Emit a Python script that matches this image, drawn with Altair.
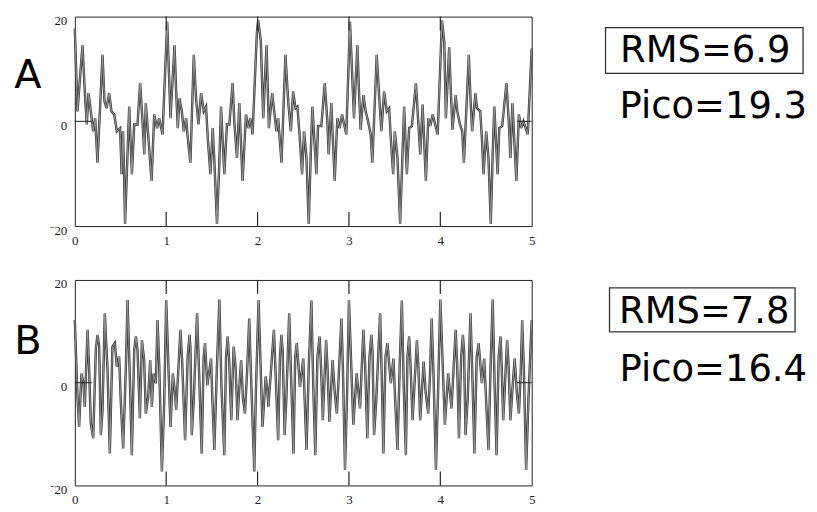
import altair as alt
import pandas as pd

# ---------------- data ----------------
a_t = [
    0.000, 0.029, 0.084, 0.109, 0.131, 0.150, 0.175, 0.201, 0.223, 0.248, 0.303, 0.325, 0.347, 0.376, 0.401, 0.431, 0.460, 0.496,
    0.512, 0.527, 0.535, 0.550, 0.575, 0.595, 0.625, 0.650, 0.686, 0.715, 0.741, 0.760, 0.777, 0.840, 0.869, 0.900, 0.923, 0.960,
    1.011, 1.047, 1.091, 1.109, 1.127, 1.145, 1.171, 1.193, 1.218, 1.236, 1.265, 1.302, 1.327, 1.353, 1.382, 1.411, 1.436, 1.455,
    1.484, 1.509, 1.527, 1.556, 1.582, 1.600, 1.636, 1.665, 1.691, 1.727, 1.745, 1.775, 1.800, 1.836, 1.873, 1.898, 1.920, 1.945, 1.993,
    2.007, 2.036, 2.062, 2.098, 2.124, 2.160, 2.182, 2.207, 2.225, 2.262, 2.305, 2.335, 2.364, 2.389, 2.415, 2.436, 2.462,
    2.487, 2.509, 2.535, 2.560, 2.582, 2.600, 2.644, 2.662, 2.698, 2.735, 2.764, 2.778, 2.807, 2.844, 2.873, 2.898, 2.924, 2.971,
    3.011, 3.037, 3.055, 3.092, 3.110, 3.128, 3.158, 3.183, 3.209, 3.238, 3.256, 3.304, 3.330, 3.355, 3.385, 3.414, 3.440, 3.458,
    3.484, 3.502, 3.531, 3.560, 3.586, 3.604, 3.634, 3.659, 3.689, 3.733, 3.758, 3.780, 3.806, 3.842, 3.868, 3.890, 3.916, 3.971,
    4.018, 4.043, 4.061, 4.097, 4.115, 4.133, 4.168, 4.186, 4.215, 4.240, 4.258, 4.312, 4.330, 4.348, 4.384, 4.401, 4.437, 4.455,
    4.473, 4.502, 4.527, 4.552, 4.573, 4.591, 4.627, 4.645, 4.677, 4.724, 4.749, 4.767, 4.789, 4.832, 4.860, 4.885, 4.910, 4.957, 5.000,
]
a_v = [
    17.7, 1.9, 14.5, 5.7, -0.6, 5.4, 1.9, -1.9, 0.6, -7.9, 12.7, 3.8, 2.5, 5.4, 1.9, 1.3, -1.9, -1.3,
    -10.1, -1.9, -7.0, -19.6, -7.0, 2.8, -10.1, -0.6, -0.6, 7.3, 0.0, -6.3, 3.5, -11.4, 1.3, -1.3, 0.6, -2.5,
    19.0, 0.6, 14.5, 5.7, -1.3, 4.4, 1.9, -1.9, 0.6, -3.2, -7.9, 12.7, 4.4, -0.6, 5.4, 1.9, 2.8, -3.2,
    -10.1, -1.3, -7.6, -19.6, -7.6, 2.8, -10.1, -0.6, -0.6, 7.3, 0.0, -7.0, 3.5, -11.4, 1.3, -1.3, 0.6, -2.5, 17.1,
    19.3, 15.2, 0.6, 14.5, -1.3, 5.4, 1.9, -1.9, 0.6, -7.9, 12.7, 3.8, -1.9, 5.7, 2.5, 2.8, -3.2,
    -10.1, -1.9, -7.0, -19.6, -6.3, 2.8, -10.1, -0.9, -0.9, 7.3, 0.0, -6.3, 3.5, -11.4, 0.6, -1.3, 1.3, -2.5,
    19.0, 8.2, 0.6, 14.5, 5.7, -1.6, 5.0, 1.9, 0.0, -2.5, -7.9, 12.7, 5.0, -1.9, 5.7, 1.9, 2.5, -3.2,
    -10.1, -1.9, -7.0, -19.6, -6.3, 2.8, -10.1, -1.3, -0.9, 7.3, 0.0, -6.3, 3.2, -11.4, 0.6, -0.9, 1.3, -2.5,
    19.3, 15.2, 0.6, 14.2, 5.7, -1.6, 5.0, 1.9, -0.6, -1.9, -7.9, 12.7, 4.4, -1.9, 5.4, 2.5, 1.9, -3.2,
    -10.1, -1.9, -7.0, -19.6, -6.3, 2.8, -10.1, -1.3, -0.9, 7.3, 0.0, -7.0, 3.5, -11.4, 1.3, -1.3, 0.0, -2.5, 13.9,
]

b_t = [
    0.000, 0.029, 0.047, 0.073, 0.095, 0.109, 0.139, 0.157, 0.175, 0.201, 0.230, 0.248, 0.266, 0.285, 0.303, 0.328, 0.358, 0.383,
    0.412, 0.438, 0.460, 0.485, 0.504, 0.529, 0.558, 0.577, 0.606, 0.624, 0.650, 0.668, 0.686, 0.712, 0.734, 0.759, 0.777, 0.803,
    0.825, 0.843, 0.861, 0.887, 0.905, 0.923, 0.953, 0.978,
    1.000, 1.047, 1.073, 1.090, 1.109, 1.156, 1.175, 1.207, 1.235, 1.255, 1.265, 1.280, 1.300, 1.338, 1.360, 1.389, 1.410, 1.425,
    1.450, 1.491, 1.505, 1.527, 1.555, 1.582, 1.605, 1.636, 1.655, 1.673, 1.690, 1.712, 1.738, 1.760, 1.780, 1.800, 1.820, 1.840,
    1.862, 1.885, 1.909, 1.925, 1.964, 1.980,
    2.011, 2.054, 2.089, 2.105, 2.118, 2.179, 2.195, 2.225, 2.245, 2.261, 2.275, 2.296, 2.315, 2.346, 2.365, 2.393, 2.412, 2.429,
    2.464, 2.500, 2.515, 2.536, 2.560, 2.589, 2.610, 2.632, 2.655, 2.679, 2.695, 2.714, 2.750, 2.765, 2.786, 2.805, 2.821, 2.845,
    2.868, 2.890, 2.918, 2.935, 2.957, 2.980,
    3.000, 3.048, 3.084, 3.100, 3.121, 3.158, 3.178, 3.201, 3.225, 3.245, 3.258, 3.275, 3.300, 3.341, 3.358, 3.377, 3.400, 3.421,
    3.458, 3.487, 3.505, 3.531, 3.555, 3.579, 3.600, 3.623, 3.640, 3.659, 3.675, 3.696, 3.744, 3.760, 3.780, 3.800, 3.817, 3.840,
    3.868, 3.888, 3.905, 3.925, 3.952, 3.975,
    4.000, 4.050, 4.086, 4.100, 4.122, 4.168, 4.185, 4.204, 4.228, 4.247, 4.260, 4.276, 4.300, 4.330, 4.350, 4.373, 4.398, 4.419,
    4.455, 4.480, 4.500, 4.527, 4.550, 4.573, 4.595, 4.616, 4.638, 4.659, 4.672, 4.688, 4.731, 4.748, 4.767, 4.790, 4.814, 4.838,
    4.860, 4.880, 4.896, 4.915, 4.939, 4.965, 5.000,
]
b_v = [
    12.2, -2.7, -8.6, 1.8, -0.1, -4.7, 10.3, 2.5, -7.9, -10.8, 6.4, 9.3, 7.3, -10.2, -5.3, 13.5, 2.5, -13.8,
    7.0, 7.7, 3.1, 5.1, -4.0, -12.8, 2.5, 16.1, -1.4, -14.1, 6.4, 9.0, 6.4, -6.9, 8.3, 4.4, -6.0, -2.7,
    4.4, -4.7, 1.8, -0.1, 12.2, 3.8, -17.3, -4.0,
    16.1, -8.6, 1.8, -1.0, -5.3, 10.3, 4.0, -11.2, 5.0, 9.3, 7.0, -10.2, -4.0, 13.5, 2.0, -13.8, 5.0, 7.7,
    -0.5, 4.7, -3.0, -13.1, 3.0, 16.2, -1.0, -14.1, 5.0, 9.0, 4.0, -7.3, 7.0, 3.0, -7.3, -1.0, 4.4, -3.0,
    -6.0, 2.0, 12.5, 3.0, -17.3, -3.0,
    16.1, -8.6, 1.2, -1.0, -4.7, 10.3, 3.0, -11.2, 5.0, 9.3, 6.0, -10.2, -3.0, 13.5, 2.0, -13.8, 5.0, 7.7,
    -0.8, 4.7, -3.0, -13.1, 3.0, 16.0, -1.0, -14.1, 5.0, 9.0, 3.0, -7.3, 8.3, 3.0, -7.6, -1.0, 4.4, -2.0,
    -6.0, 2.0, 12.5, 2.0, -17.0, -2.0,
    16.1, -8.2, 1.8, -1.0, -5.0, 10.3, 3.0, -10.8, 5.0, 9.3, 6.0, -10.2, -3.0, 13.5, 2.0, -13.8, 5.0, 7.7,
    -0.1, 4.7, -3.0, -13.1, 3.0, 16.0, -1.0, -14.1, 5.0, 9.0, 3.0, -7.3, 8.3, 3.0, -7.3, -1.0, 4.1, -2.0,
    -6.0, 2.0, 12.5, 2.0, -17.0, -2.0,
    16.2, -8.2, 1.8, -1.0, -5.0, 10.3, 3.0, -10.8, 5.0, 9.3, 6.0, -10.2, -3.0, 13.5, 2.0, -13.8, 5.0, 7.7,
    -0.1, 4.7, -3.0, -13.1, 3.0, 16.2, -1.0, -14.1, 5.0, 9.0, 3.0, -7.3, 8.3, 3.0, -7.3, -1.0, 4.7, -2.0,
    -6.0, 2.0, 12.2, 2.0, -17.0, -3.0, 12.2,
]

x_ticks = [0, 1, 2, 3, 4, 5]
y_ticks = [-20, 0, 20]
inner_ticks = [1, 2, 3, 4]
panel_letters = ["A", "B"]
rms_labels = ["RMS=6.9", "RMS=7.8"]
pico_labels = ["Pico=19.3", "Pico=16.4"]

# ---------------- layout / style ----------------
W = 458
H_A = 210
H_B = 206
FRAME = "#222222"
LINE_DARK = "#3a3a3a"
LINE_LIGHT = "#a8a8a8"
LABEL_COLOR = "#1c1c30"


def make_panel(t, v, h, letter, rms, pico, lay, canvas=False):
    df = pd.DataFrame({"t": t, "v": v})
    xs = alt.Scale(domain=[0, 5], nice=False, zero=False)
    ys = alt.Scale(domain=[-20, 20], nice=False)
    xaxis = alt.Axis(values=x_ticks, title=None, grid=False, domain=False, ticks=False, tickSize=0,
                     labelPadding=8, labelFlush=False, labelFont="Liberation Serif", labelFontSize=13,
                     labelColor=LABEL_COLOR, format="d")
    yaxis = alt.Axis(values=y_ticks, title=None, grid=False, domain=False, ticks=False, tickSize=0,
                     labelPadding=8, labelFlush=False, labelFont="Liberation Serif", labelFontSize=13,
                     labelColor=LABEL_COLOR, labelOffset=4,
                     labelExpr="datum.value < 0 ? '\u207b' + (-datum.value) : datum.label")
    base = alt.Chart(df)
    outer = base.mark_line(color=LINE_DARK, strokeWidth=2.4, strokeJoin="miter").encode(
        x=alt.X("t:Q", scale=xs, axis=xaxis),
        y=alt.Y("v:Q", scale=ys, axis=yaxis),
    )
    inner = base.mark_line(color=LINE_LIGHT, strokeWidth=0.8).encode(x="t:Q", y="v:Q")

    zero_df = pd.DataFrame({"v": [0]})
    zero_l = alt.Chart(zero_df).mark_rule(color=FRAME, strokeWidth=1).encode(
        y="v:Q", x=alt.value(0), x2=alt.value(17))
    zero_r = alt.Chart(zero_df).mark_rule(color=FRAME, strokeWidth=1).encode(
        y="v:Q", x=alt.value(W - 15), x2=alt.value(W))

    tick_df = pd.DataFrame({"t": inner_ticks})
    ticks_top = alt.Chart(tick_df).mark_rule(color=FRAME, strokeWidth=1.2).encode(
        x="t:Q", y=alt.value(0), y2=alt.value(14))
    ticks_bot = alt.Chart(tick_df).mark_rule(color=FRAME, strokeWidth=1.2).encode(
        x="t:Q", y=alt.value(h - 14), y2=alt.value(h))

    txt = pd.DataFrame({"s": [letter]})
    letter_mark = alt.Chart(txt).mark_text(font="DejaVu Sans", fontSize=40, align="center",
                                           baseline="alphabetic", color="black").encode(
        text="s:N", x=alt.value(lay["lx"]), y=alt.value(lay["ly"]))
    rms_mark = alt.Chart(pd.DataFrame({"s": [rms]})).mark_text(
        font="DejaVu Sans", fontSize=37, align="center", baseline="alphabetic", color="black").encode(
        text="s:N", x=alt.value(lay["rx"]), y=alt.value(lay["ry"]))
    pico_mark = alt.Chart(pd.DataFrame({"s": [pico]})).mark_text(
        font="DejaVu Sans", fontSize=37, align="center", baseline="alphabetic", color="black").encode(
        text="s:N", x=alt.value(lay["px"]), y=alt.value(lay["py"]))
    box = alt.Chart(pd.DataFrame({"s": [rms]})).mark_rect(
        fill="white", fillOpacity=0, stroke="#333333", strokeWidth=1.3).encode(
        x=alt.value(lay["bx1"]), x2=alt.value(lay["bx2"]), y=alt.value(lay["by1"]), y2=alt.value(lay["by2"]))

    layers = []
    if canvas:
        layers.append(alt.Chart(pd.DataFrame({"s": [0]})).mark_rect(opacity=0, fill="white").encode(
            x=alt.value(-74), x2=alt.value(743), y=alt.value(-15), y2=alt.value(497)))
    layers += [outer, inner, zero_l, zero_r, ticks_top, ticks_bot, letter_mark, rms_mark, pico_mark, box]
    return alt.layer(*layers).properties(width=W, height=h)


lay_a = dict(lx=-47, ly=72, rx=632, ry=46, px=640, py=102, bx1=532, bx2=730, by1=11, by2=57)
lay_b = dict(lx=-47, ly=74, rx=631, ry=43, px=640, py=101, bx1=536, bx2=722, by1=8, by2=52)

panel_a = make_panel(a_t, a_v, H_A, panel_letters[0], rms_labels[0], pico_labels[0], lay_a, canvas=True)
panel_b = make_panel(b_t, b_v, H_B, panel_letters[1], rms_labels[1], pico_labels[1], lay_b)

chart = alt.vconcat(panel_a, panel_b, spacing=54, bounds="flush").properties(
    padding=0, background="white", autosize=alt.AutoSizeParams(type="pad")
).configure_view(stroke=FRAME, strokeWidth=1)

chart.save("out.html", embed_options={"renderer": "svg", "actions": False})
